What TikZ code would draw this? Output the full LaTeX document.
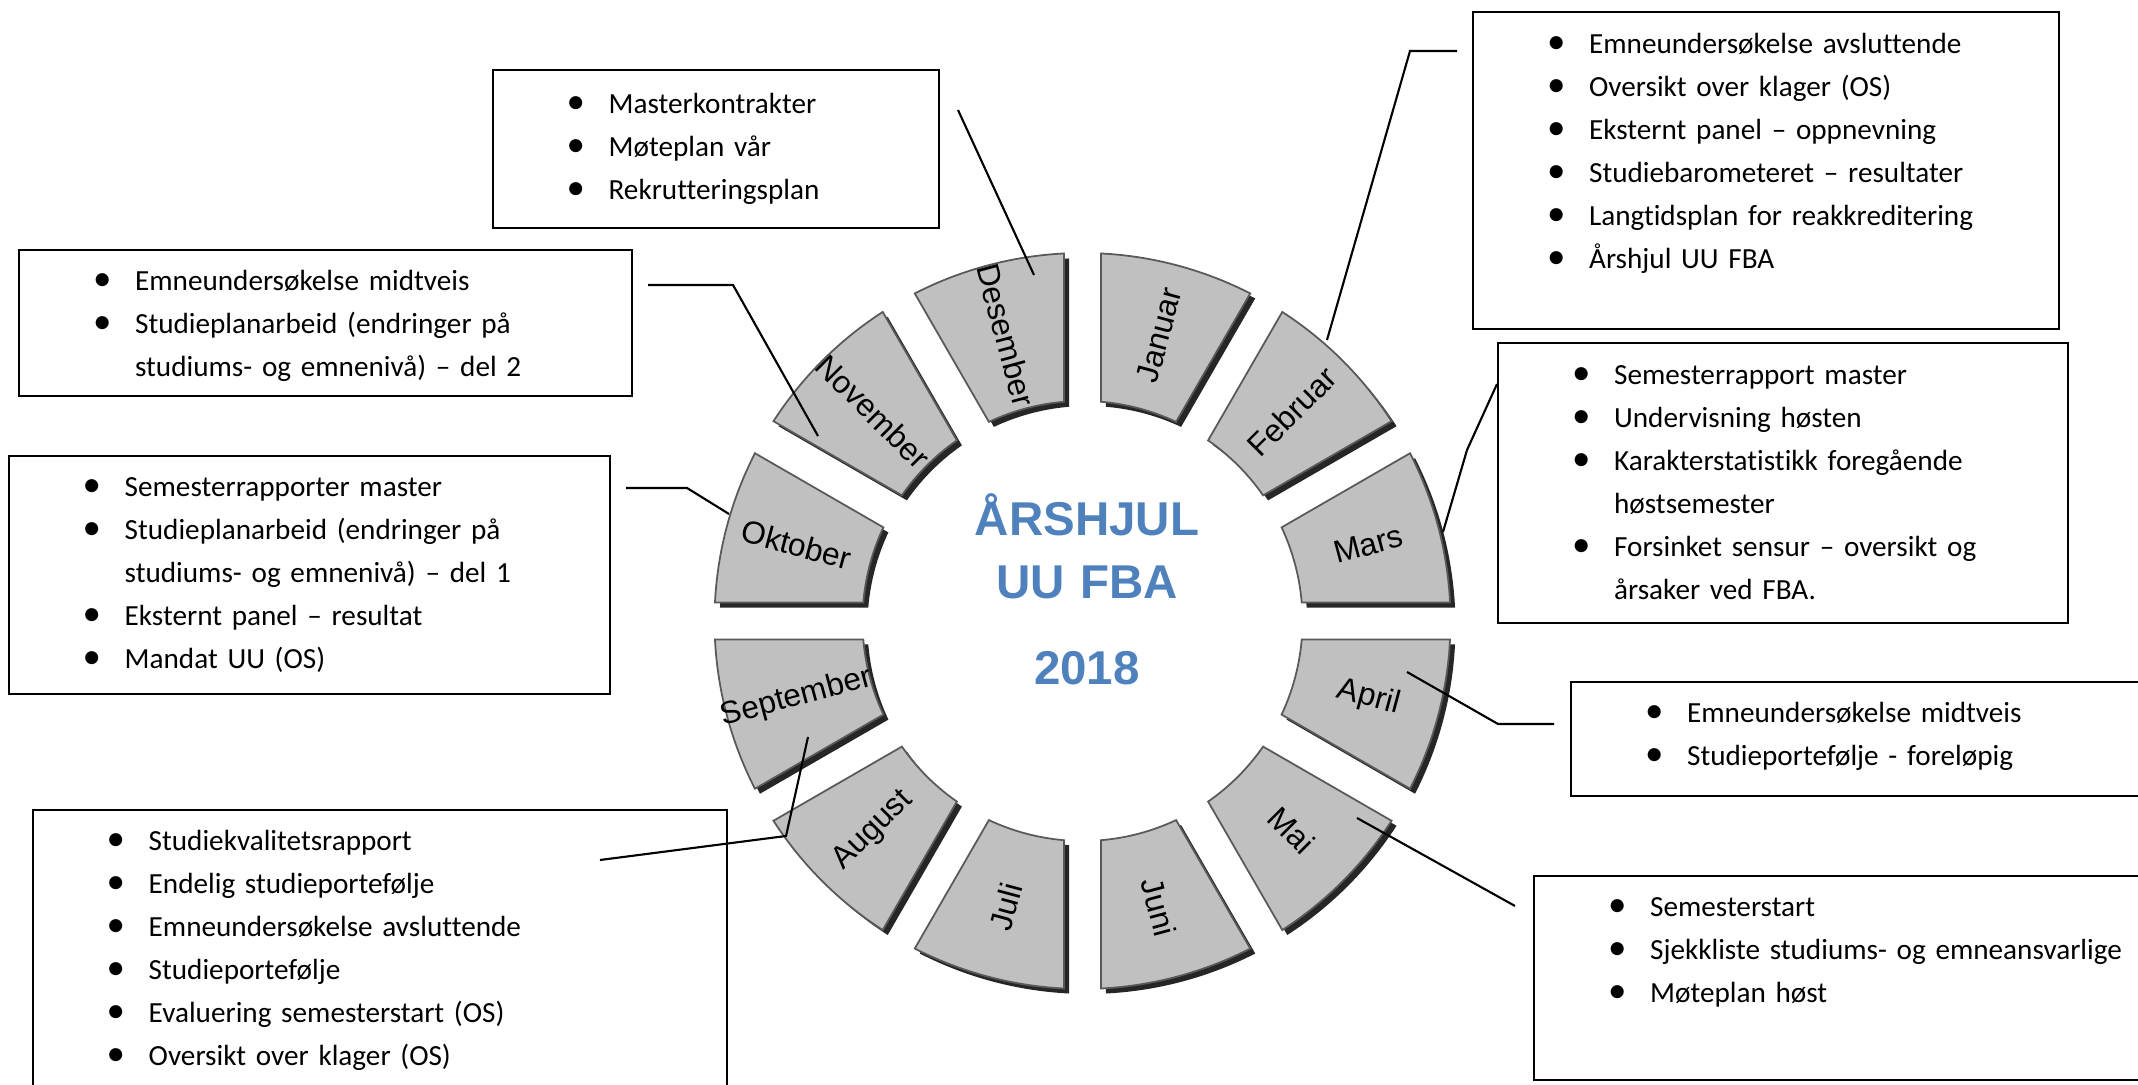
\documentclass[tikz,border=0pt]{standalone}
\usepackage{fontspec}
\setmainfont{Carlito}[Ligatures=NoCommon]
\newfontfamily\arialfont{Liberation Sans}
\usetikzlibrary{calc}
\definecolor{titelblaa}{HTML}{4F81BD}
\definecolor{segmentgraa}{HTML}{C0C0C0}
\newcommand{\pkt}[1]{\hspace*{0.74cm}\makebox[0.42cm][l]{\fontsize{10.5}{10}\selectfont\textbullet}#1}
\newcommand{\fort}[1]{\hspace*{1.16cm}#1}
\tikzset{
  infoboks/.style={draw, line width=0.6pt, anchor=north west, inner sep=0pt, align=left,
    text height=0.40cm, font=\fontsize{8.3}{12.24}\selectfont},
  maaned/.style={font=\arialfont\fontsize{9}{11}\selectfont, inner sep=0pt},
  tittel/.style={text width=4cm, align=center, anchor=base, text=titelblaa,
    font=\arialfont\bfseries\fontsize{13.5}{17.9}\selectfont},
  segment/.style={fill=segmentgraa, draw=black!65, line width=0.5pt},
  skygge/.style={fill=black!85},
  linje/.style={line width=0.6pt}
}
\begin{document}
\begin{tikzpicture}[x=0.01cm,y=0.01cm]
    \useasboundingbox (0,0) rectangle (2138,1085);
    \clip (0,0) rectangle (2138,1085);
    % the wheel
    \begin{scope}[shift={(1082.5,464)}]
      \foreach \mnd [count=\i from 0] in {Januar,Februar,Mars,April,Mai,Juni,Juli,August,September,Oktober,November,Desember}{
        \pgfmathsetmacro\a{90-30*\i}
        \pgfmathsetmacro\b{\a-30}
        \pgfmathsetmacro\m{\a-15}
        \pgfmathsetmacro\rot{\m<-90 ? \m+180 : \m}
        \fill[skygge, shift={(5,-5)}] ({\a-2.88}:368) arc[start angle=\a-2.88, end angle=\b+2.88, radius=368]
          -- ({\b+4.82}:220) arc[start angle=\b+4.82, end angle=\a-4.82, radius=220] -- cycle;
        \draw[segment] ({\a-2.88}:368) arc[start angle=\a-2.88, end angle=\b+2.88, radius=368]
          -- ({\b+4.82}:220) arc[start angle=\b+4.82, end angle=\a-4.82, radius=220] -- cycle;
        \node[maaned, rotate=\rot] (\mnd) at ({\m}:296) {\mnd};
      }
    \end{scope}
    \node[tittel] (tittel) at (1087,549) {ÅRSHJUL\\UU FBA\\[0.23cm]2018};
    % the boxes
    \node[infoboks, text width=4.465cm, text height=0.43cm, text depth=1.15cm] (desboks) at (491.5,1016)
      {\pkt{Masterkontrakter}\\ \pkt{Møteplan vår}\\ \pkt{Rekrutteringsplan}};
    \node[infoboks, text width=6.13cm, text depth=1.06cm] (novboks) at (18,836)
      {\pkt{Emneundersøkelse midtveis}\\ \pkt{Studieplanarbeid (endringer på}\\ \fort{studiums- og emnenivå) – del 2}};
    \node[infoboks, text width=6.014cm, text depth=1.98cm] (oktboks) at (7.6,630)
      {\pkt{Semesterrapporter master}\\ \pkt{Studieplanarbeid (endringer på}\\ \fort{studiums- og emnenivå) – del 1}\\
       \pkt{Eksternt panel – resultat}\\ \pkt{Mandat UU (OS)}};
    \node[infoboks, text width=6.94cm, text depth=2.8cm] (augboks) at (31.6,276)
      {\pkt{Studiekvalitetsrapport}\\ \pkt{Endelig studieportefølje}\\ \pkt{Emneundersøkelse avsluttende}\\
       \pkt{Studieportefølje}\\ \pkt{Evaluering semesterstart (OS)}\\ \pkt{Oversikt over klager (OS)}};
    \node[infoboks, text width=5.86cm, text height=0.41cm, text depth=2.76cm] (janboks) at (1472,1074)
      {\pkt{Emneundersøkelse avsluttende}\\ \pkt{Oversikt over klager (OS)}\\ \pkt{Eksternt panel – oppnevning}\\
       \pkt{Studiebarometeret – resultater}\\ \pkt{Langtidsplan for reakkreditering}\\ \pkt{Årshjul UU FBA}};
    \node[infoboks, text width=5.70cm, text height=0.41cm, text depth=2.39cm] (marboks) at (1497,743)
      {\pkt{Semesterrapport master}\\ \pkt{Undervisning høsten}\\ \pkt{Karakterstatistikk foregående}\\
       \fort{høstsemester}\\ \pkt{Forsinket sensur – oversikt og}\\ \fort{årsaker ved FBA.}};
    \node[infoboks, text width=6cm, text depth=0.74cm] (aprboks) at (1570,404)
      {\pkt{Emneundersøkelse midtveis}\\ \pkt{Studieportefølje - foreløpig}};
    \node[infoboks, text width=6.4cm, text depth=1.64cm] (maiboks) at (1533,210)
      {\pkt{Semesterstart}\\ \pkt{Sjekkliste studiums- og emneansvarlige}\\ \pkt{Møteplan høst}};
    % the connectors
    \coordinate (des-a) at (958,975);
    \coordinate (des-b) at (1034,810);
    \coordinate (nov-a) at (648,800);
    \coordinate (nov-b) at (733,800);
    \coordinate (nov-c) at (818,649);
    \coordinate (okt-a) at (626,597);
    \coordinate (okt-b) at (687,597);
    \coordinate (okt-c) at (729,571);
    \coordinate (aug-a) at (600,225);
    \coordinate (aug-b) at (786,249);
    \coordinate (aug-c) at (808,348);
    \coordinate (feb-a) at (1457,1034);
    \coordinate (feb-b) at (1410,1034);
    \coordinate (feb-c) at (1327,745);
    \coordinate (mar-a) at ($(marboks.north west)+(0,-42)$);
    \coordinate (mar-b) at (1467,635);
    \coordinate (mar-c) at (1443,553);
    \coordinate (apr-a) at (1554,361);
    \coordinate (apr-b) at (1498,361);
    \coordinate (apr-c) at (1407,413);
    \coordinate (mai-a) at (1515,179);
    \coordinate (mai-b) at (1357,267);
    \draw[linje] (des-a) -- (des-b);
    \draw[linje] (nov-a) -- (nov-b) -- (nov-c);
    \draw[linje] (okt-a) -- (okt-b) -- (okt-c);
    \draw[linje] (aug-a) -- (aug-b) -- (aug-c);
    \draw[linje] (feb-a) -- (feb-b) -- (feb-c);
    \draw[linje] (mar-a) -- (mar-b) -- (mar-c);
    \draw[linje] (apr-a) -- (apr-b) -- (apr-c);
    \draw[linje] (mai-a) -- (mai-b);
\end{tikzpicture}
\end{document}
